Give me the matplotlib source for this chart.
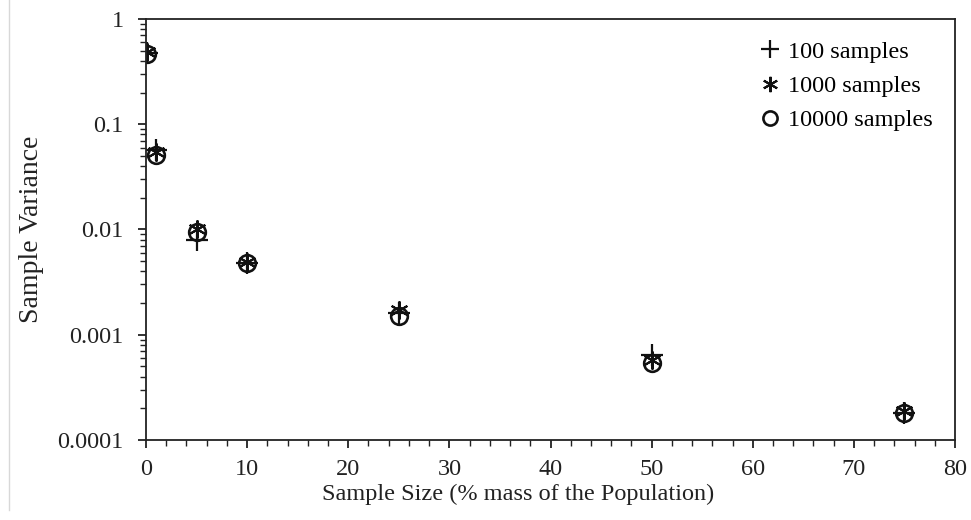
import matplotlib
matplotlib.use("Agg")
import matplotlib.pyplot as plt
from matplotlib.ticker import LogLocator, FixedLocator, MultipleLocator, FuncFormatter
from matplotlib.lines import Line2D

plt.rcParams['font.family'] = ['Liberation Serif', 'DejaVu Serif']

x_size = [0.1, 1, 5, 10, 25, 50, 75]
var_100 = [0.48, 0.057, 0.0079, 0.0048, 0.0016, 0.00064, 0.00018]
var_1000 = [0.49, 0.055, 0.0102, 0.0049, 0.0017, 0.00058, 0.00019]
var_10000 = [0.46, 0.051, 0.0095, 0.0048, 0.00150, 0.00054, 0.000181]
y_ticks = [0.0001, 0.001, 0.01, 0.1, 1]
y_tick_labels = ['0.0001', '0.001', '0.01', '0.1', '1']
x_ticks = [0, 10, 20, 30, 40, 50, 60, 70, 80]

fig = plt.figure(figsize=(9.71, 5.2), dpi=100)
ax = fig.add_axes([0.1504, 0.154, 0.8331, 0.8095])

ax.plot(x_size, var_100, linestyle='none', marker='+', markersize=16, markeredgewidth=1.6,
        color='#111111', label='100 samples')
ax.plot(x_size, var_1000, linestyle='none', marker=(6, 2, 0), markersize=13, markeredgewidth=1.5,
        color='#111111', label='1000 samples')
ax.plot(x_size, var_10000, linestyle='none', marker='o', markersize=12, markeredgewidth=1.9,
        markerfacecolor='none', markeredgecolor='#111111', label='10000 samples')

ax.set_yscale('log')
ax.set_ylim(1e-4, 1)
ax.set_xlim(0, 80)
ax.yaxis.set_major_locator(FixedLocator(y_ticks))
ax.set_yticklabels(y_tick_labels)
ax.yaxis.set_minor_locator(LogLocator(base=10, subs=range(2, 10)))
ax.yaxis.set_minor_formatter(FuncFormatter(lambda v, p: ''))
ax.xaxis.set_major_locator(FixedLocator(x_ticks))
ax.xaxis.set_minor_locator(MultipleLocator(2))

for s in ax.spines.values():
    s.set_linewidth(1.3)
    s.set_color('#222222')
ax.tick_params(axis='both', which='major', direction='out', length=6, width=1.3,
               labelsize=17.5, colors='#222222')
ax.tick_params(axis='y', which='major', pad=10)
ax.tick_params(axis='x', which='major', pad=8)
ax.tick_params(axis='both', which='minor', direction='out', length=4, width=1.0, colors='#222222')
ax.tick_params(top=False, right=False, which='both')

ax.set_xlabel('Sample Size (% mass of the Population)', fontsize=17.5, color='#222222')
ax.xaxis.set_label_coords(0.46, -0.105)
ax.set_ylabel('Sample Variance', fontsize=20, color='#222222')
ax.yaxis.set_label_coords(-0.126, 0.5)

leg = ax.legend(loc='upper right', frameon=False, fontsize=17.5, handlelength=0.8,
                handletextpad=0.35, labelspacing=0.5, borderaxespad=0.5, markerscale=0.85)

fig.add_artist(Line2D([0.009, 0.009], [0.02, 1.0], transform=fig.transFigure,
                      color='#d8d8d8', linewidth=1.0))

fig.savefig('out.png', dpi=100)
